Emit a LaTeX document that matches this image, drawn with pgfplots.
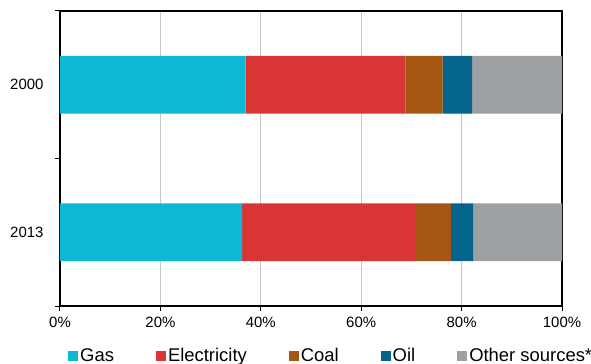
\documentclass[border=0pt]{standalone}
\usepackage{pgfplots}
\pgfplotsset{compat=1.18}
\usepackage{fontspec}
\setmainfont{Liberation Sans}
\definecolor{cgas}{HTML}{0EB8D4}
\definecolor{celec}{HTML}{D93535}
\definecolor{ccoal}{HTML}{A65611}
\definecolor{coil}{HTML}{05648C}
\definecolor{coth}{HTML}{9CA0A3}
\begin{document}
\begin{tikzpicture}
\begin{axis}[
  xbar stacked,
  scale only axis, width=502bp, height=295bp,
  xmin=0, xmax=100, ymin=-0.5, ymax=1.5,
  bar width=0.39,
  xtick={0,20,...,100},
  xticklabel={\pgfmathprintnumber{\tick}\%},
  /pgf/number format/assume math mode=true,
  ytick={0,1}, yticklabels={2013,2000},
  minor ytick={-0.5,0.5,1.5},
  major y tick style={draw=none},
  minor y tick style={black, line width=1bp},
  minor tick length=5bp,
  major tick length=5bp,
  x tick style={black, line width=1bp},
  tick align=outside,
  xtick pos=bottom, ytick pos=left,
  xmajorgrids, grid style={black!22, line width=0.9bp},
  axis line style={black, line width=1.3bp},
  tick label style={font=\fontsize{15}{17}\selectfont},
  xticklabel style={yshift=-3bp},
  yticklabel style={xshift=-8bp},
  legend columns=5,
  legend cell align=left,
  legend image code/.code={\fill[#1] (0bp,-5bp) rectangle (10bp,5bp);},
  legend style={draw=none, at={(0.016,-0.168)}, anchor=west, inner sep=0pt,
    font=\fontsize{18.5}{20}\selectfont,
    /tikz/every even column/.append style={column sep=40bp},
    /tikz/every odd column/.append style={column sep=0bp}},
]
\addplot[fill=cgas, draw=none] coordinates {(37.0,1) (36.3,0)};
\addplot[fill=celec, draw=none] coordinates {(31.8,1) (34.6,0)};
\addplot[fill=ccoal, draw=none] coordinates {(7.4,1) (7.0,0)};
\addplot[fill=coil, draw=none] coordinates {(5.9,1) (4.4,0)};
\addplot[fill=coth, draw=none] coordinates {(17.9,1) (17.7,0)};
\legend{Gas, Electricity, Coal, Oil, Other sources*}
\end{axis}
\pgfresetboundingbox
\path[use as bounding box] ([shift={(-60bp,-58bp)}]current axis.south west) rectangle ([shift={(29bp,11bp)}]current axis.north east);
\end{tikzpicture}
\end{document}
